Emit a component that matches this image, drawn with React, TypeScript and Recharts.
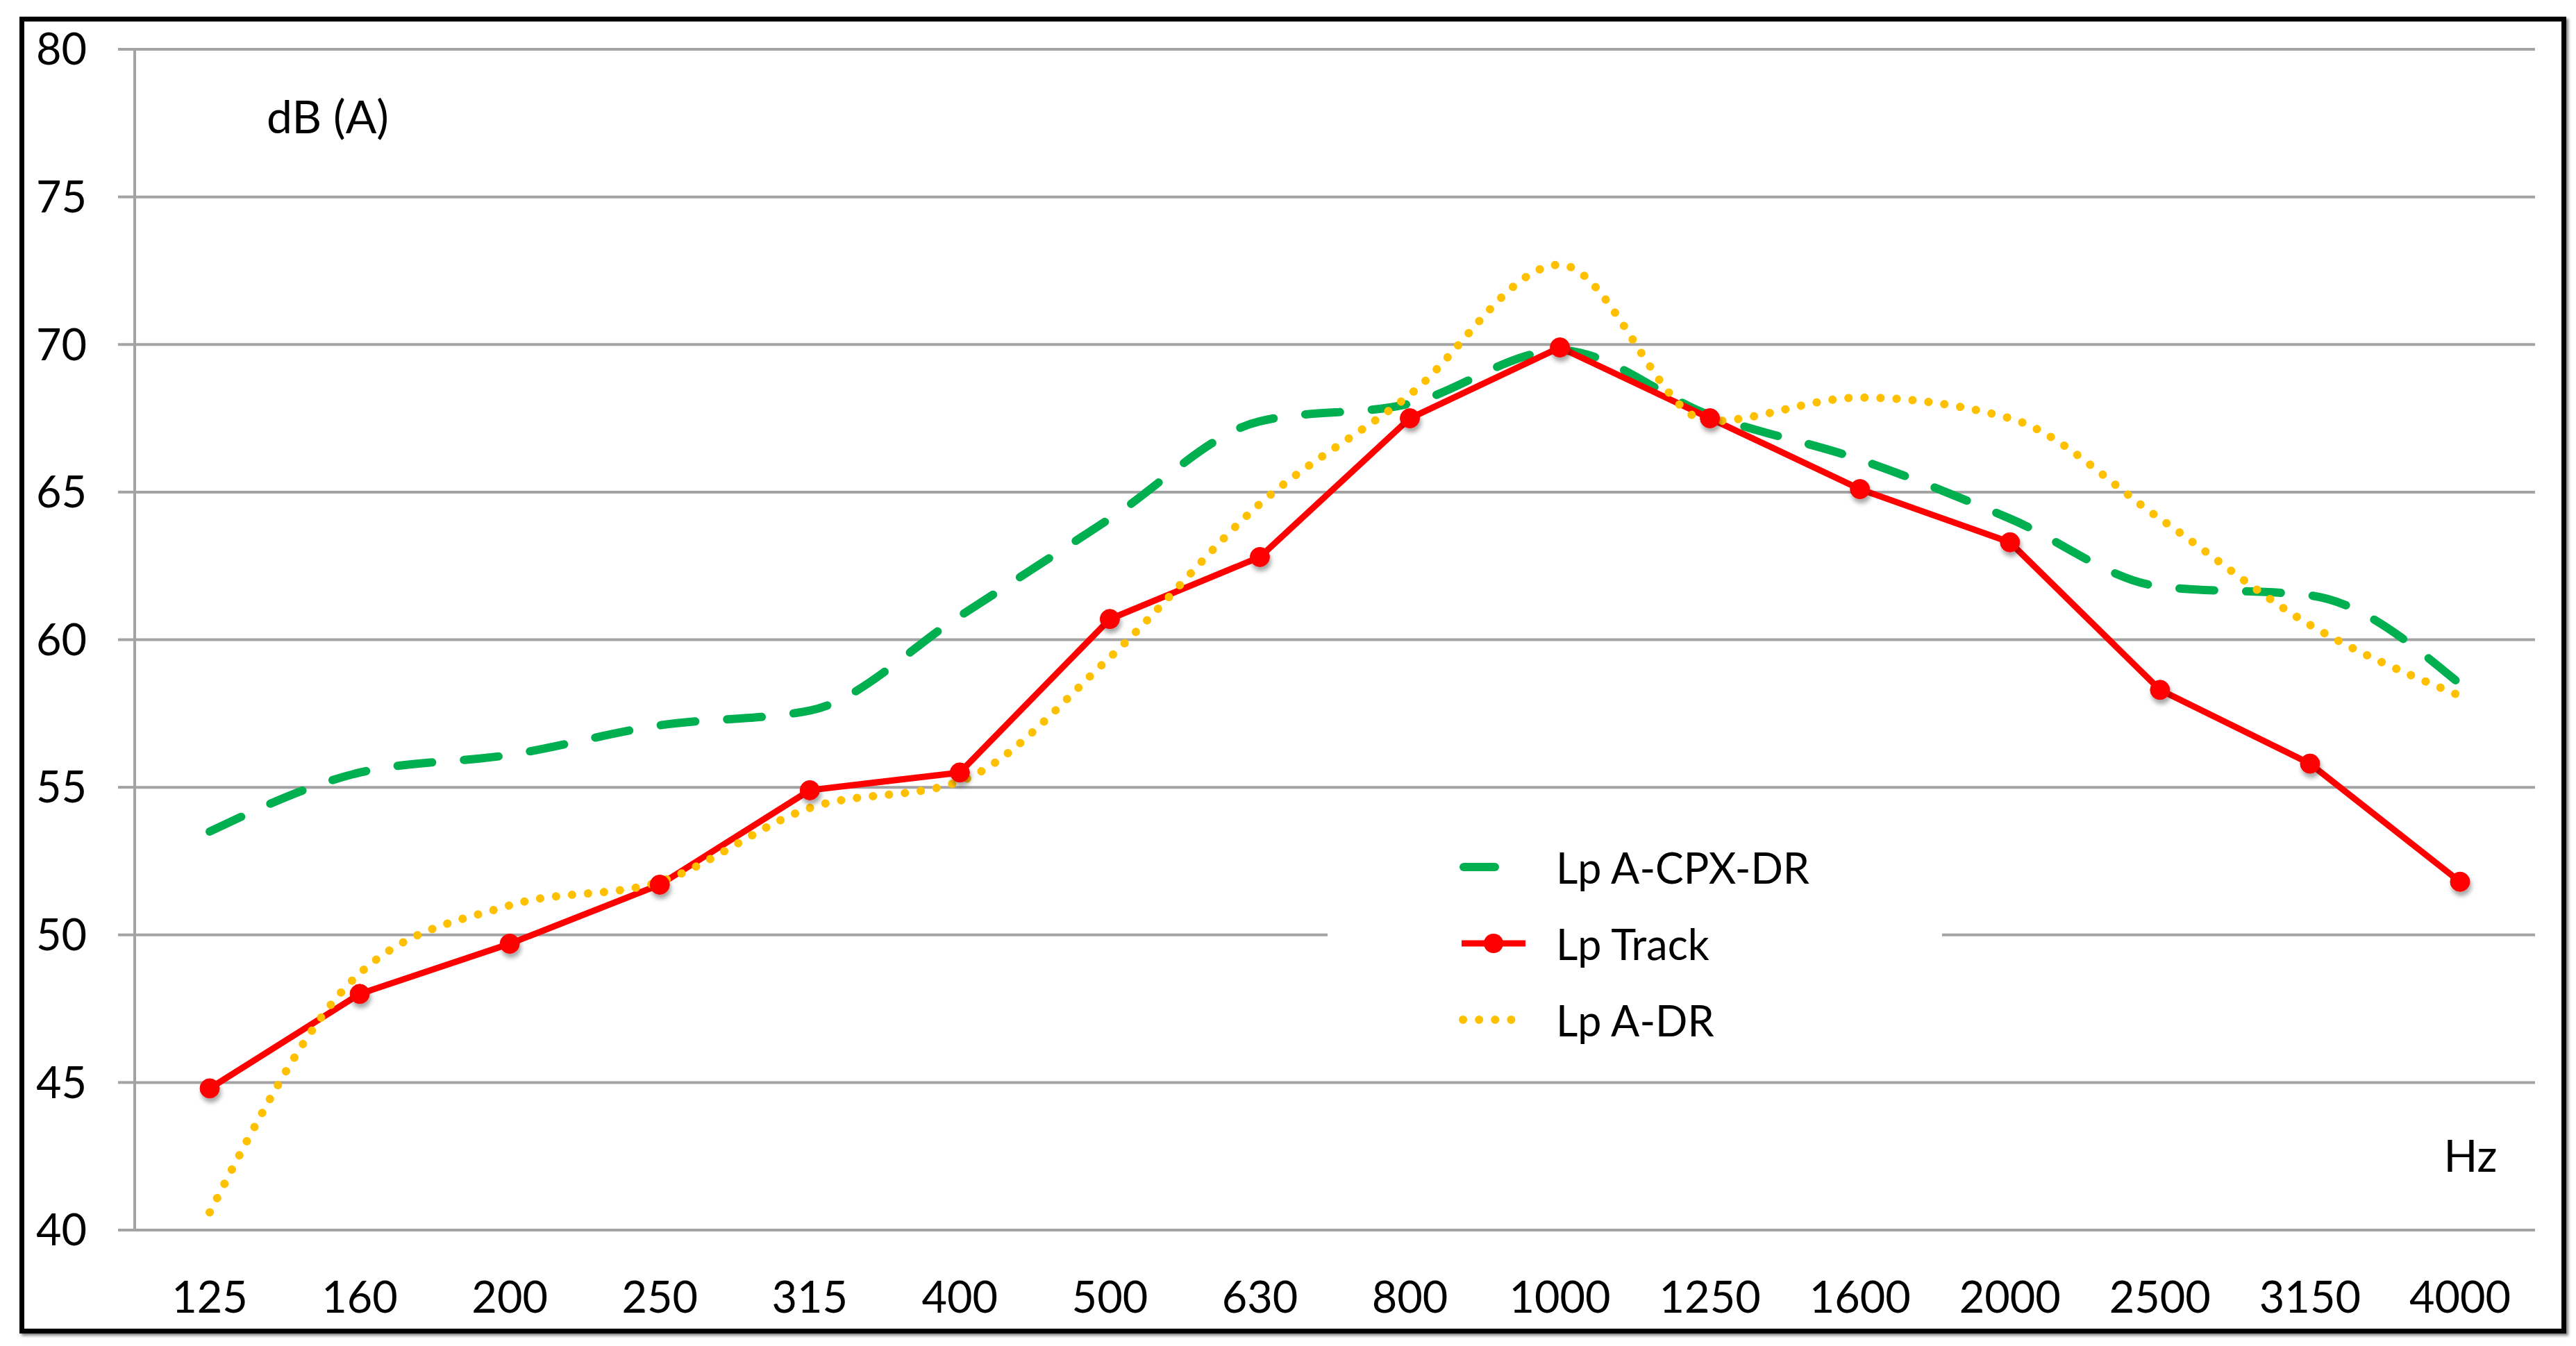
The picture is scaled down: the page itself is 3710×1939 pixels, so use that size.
import { LineChart, Line, XAxis, YAxis, CartesianGrid, Legend } from 'recharts';

const freqs = ['125', '160', '200', '250', '315', '400', '500', '630', '800', '1000', '1250', '1600', '2000', '2500', '3150', '4000'];
const cpxDr = [53.5, 55.5, 56.1, 57.1, 57.6, 60.8, 64.1, 67.4, 68.0, 69.8, 67.6, 66.1, 64.1, 61.8, 61.5, 58.5];
const track = [44.8, 48.0, 49.7, 51.7, 54.9, 55.5, 60.7, 62.8, 67.5, 69.9, 67.5, 65.1, 63.3, 58.3, 55.8, 51.8];
const aDr = [40.6, 48.7, 51.0, 51.8, 54.3, 55.2, 59.4, 64.6, 68.3, 72.7, 67.4, 68.2, 67.5, 64.1, 60.5, 58.1];
const yTicks = [40, 45, 50, 55, 60, 65, 70, 75, 80];

const data = freqs.map((f, i) => ({ pos: i + 0.5, freq: f, cpx: cpxDr[i], track: track[i], adr: aDr[i] }));
const boundaryTicks = [...freqs.map((_, i) => i), freqs.length];
const centerTicks = freqs.map((_, i) => i + 0.5);

const FONT = 'Lato, Carlito, Calibri, sans-serif';
const GRID = '#a3a3a3';
const GREEN = '#00b050';
const RED = '#ff0000';
const YELLOW = '#ffc000';

const legendRows = [
  { key: 'cpx', name: 'Lp A-CPX-DR' },
  { key: 'track', name: 'Lp Track' },
  { key: 'adr', name: 'Lp A-DR' },
];

const LegendSample = ({ kind }: { kind: string }) => (
  <svg width={100} height={40}>
    {kind === 'cpx' && (
      <line x1={7} y1={20} x2={52} y2={20} stroke={GREEN} strokeWidth={12} strokeLinecap="round" />
    )}
    {kind === 'track' && (
      <>
        <line x1={4} y1={20} x2={96} y2={20} stroke={RED} strokeWidth={9} />
        <circle cx={50} cy={20} r={14} fill={RED} />
      </>
    )}
    {kind === 'adr' && (
      <line x1={6} y1={20} x2={80} y2={20} stroke={YELLOW} strokeWidth={12} strokeLinecap="round" strokeDasharray="0.1 23" />
    )}
  </svg>
);

const renderLegend = () => (
  <div style={{ paddingLeft: 189, paddingTop: 29, fontFamily: FONT }}>
    {legendRows.map((r) => (
      <div key={r.key} style={{ display: 'flex', alignItems: 'center', height: 110 }}>
        <LegendSample kind={r.key} />
        <span style={{ marginLeft: 40, fontSize: 61, color: '#000' }}>{r.name}</span>
      </div>
    ))}
  </div>
);

export default function App() {
  return (
    <div style={{ position: 'absolute', left: 0, top: 0, width: 3710, height: 1939, background: '#fff' }}>
      <div
        style={{
          position: 'absolute',
          left: 28,
          top: 24,
          width: 3668,
          height: 1897,
          border: '7px solid #000',
          boxSizing: 'border-box',
          boxShadow: '3px 3px 4px rgba(0,0,0,0.5)',
        }}
      />
      <LineChart
        width={3710}
        height={1939}
        data={data}
        margin={{ top: 71, right: 59, bottom: 17, left: 0 }}
        style={{ position: 'absolute', left: 0, top: 0 }}
      >
        <defs>
          <filter id="markerShadow" x="-50%" y="-50%" width="200%" height="220%">
            <feDropShadow dx="2" dy="6" stdDeviation="3" floodColor="#000" floodOpacity="0.35" />
          </filter>
        </defs>
        <CartesianGrid vertical={false} stroke={GRID} strokeWidth={4} xAxisId="marks" />
        <XAxis
          xAxisId="marks"
          type="number"
          dataKey="pos"
          domain={[0, freqs.length]}
          ticks={boundaryTicks}
          tick={false}
          tickSize={26}
          height={0}
          axisLine={{ stroke: GRID, strokeWidth: 4 }}
          tickLine={{ stroke: GRID, strokeWidth: 4 }}
        />
        <XAxis
          xAxisId="labels"
          type="number"
          dataKey="pos"
          domain={[0, freqs.length]}
          ticks={centerTicks}
          interval={0}
          tickFormatter={(v: number) => freqs[Math.floor(v)]}
          axisLine={false}
          tickLine={false}
          tickSize={0}
          tickMargin={74}
          height={150}
          tick={{ fontSize: 63, fill: '#000', fontFamily: FONT }}
        />
        <YAxis
          domain={[40, 80]}
          ticks={yTicks}
          width={194}
          interval={0}
          tickSize={24}
          tickMargin={45}
          axisLine={{ stroke: GRID, strokeWidth: 4 }}
          tickLine={{ stroke: GRID, strokeWidth: 4 }}
          tick={{ fontSize: 63, fill: '#000', fontFamily: FONT }}
        />
        <Legend
          layout="vertical"
          align="center"
          verticalAlign="middle"
          content={renderLegend}
          wrapperStyle={{ position: 'absolute', left: 1912, top: 1165, width: 885, height: 390, background: '#fff' }}
        />
        <Line
          xAxisId="labels"
          type="monotone"
          dataKey="cpx"
          name="Lp A-CPX-DR"
          stroke={GREEN}
          strokeWidth={12}
          strokeDasharray="50 46"
          strokeLinecap="round"
          dot={false}
          isAnimationActive={false}
        />
        <Line
          xAxisId="labels"
          type="linear"
          dataKey="track"
          name="Lp Track"
          stroke={RED}
          strokeWidth={9}
          dot={{ r: 14, fill: RED, stroke: RED, strokeWidth: 1, filter: 'url(#markerShadow)' }}
          isAnimationActive={false}
        />
        <Line
          xAxisId="labels"
          type="monotone"
          dataKey="adr"
          name="Lp A-DR"
          stroke={YELLOW}
          strokeWidth={12}
          strokeDasharray="0.1 23"
          strokeLinecap="round"
          dot={false}
          isAnimationActive={false}
        />
        <text x={472} y={166} textAnchor="middle" dominantBaseline="central" fontSize={66} fontFamily={FONT} fill="#000">
          dB (A)
        </text>
        <text x={3558} y={1663} textAnchor="middle" dominantBaseline="central" fontSize={64} fontFamily={FONT} fill="#000">
          Hz
        </text>
      </LineChart>
    </div>
  );
}
